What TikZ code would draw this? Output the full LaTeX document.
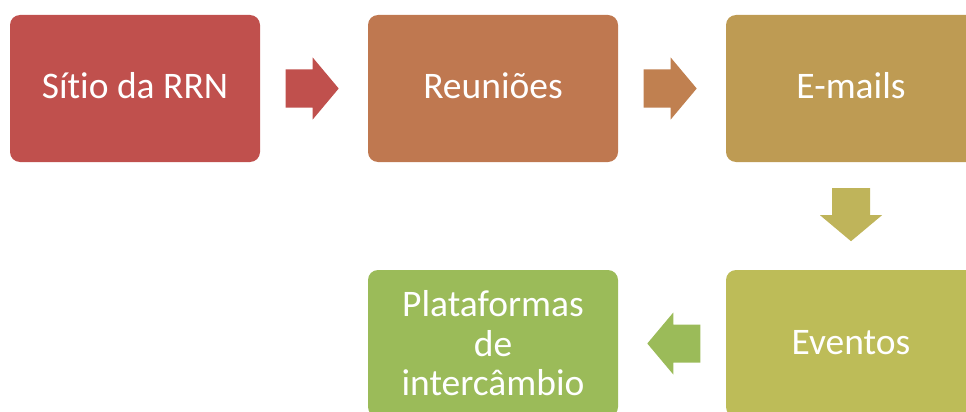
\documentclass[tikz,border=0pt]{standalone}
\usepackage{fontspec}
\setmainfont{Carlito}[Ligatures={NoCommon}]
\usetikzlibrary{calc}
\definecolor{cA}{HTML}{C0504D}
\definecolor{cB}{HTML}{BF7850}
\definecolor{cC}{HTML}{BE9B53}
\definecolor{cD}{HTML}{BDBC58}
\definecolor{cE}{HTML}{9BBB59}
\definecolor{aB}{HTML}{C08050}
\definecolor{aC}{HTML}{BFB45A}
\begin{document}
\begin{tikzpicture}[x=1pt,y=-1pt,
  stepbox/.style={rectangle, rounded corners=10pt, minimum width=250pt, minimum height=147pt,
    inner sep=0pt, text=white, font=\fontsize{37.5}{39.5}\selectfont},
  oneline/.style={text height=25pt, text depth=4pt},
  blockarr/.pic={\fill[pic actions] (0,-19) -- (27,-19) -- (27,-31) -- (53,0) -- (27,31) -- (27,19) -- (0,19) -- cycle;}
]
\useasboundingbox (0,0) rectangle (966,412);
\clip (0,0) rectangle (966,412);
\node[stepbox, oneline, fill=cA] (b1) at (135,88.5) {Sítio da RRN};
\node[stepbox, oneline, fill=cB] (b2) at (493,88.5) {Reuniões};
\node[stepbox, oneline, fill=cC] (b3) at (851,88.5) {E-mails};
\node[stepbox, oneline, fill=cD] (b4) at (851,343.5) {Eventos};
\node[stepbox, fill=cE, align=center] (b5) at (493,343.5) {Plataformas\\de\\intercâmbio};
\pic[fill=cA] at ($(b1.east)+(25.5,0)$) {blockarr};
\pic[fill=aB] at ($(b2.east)+(25.5,0)$) {blockarr};
\pic[fill=aC, rotate=-90] at ($(b3.south)+(0,26)$) {blockarr};
\pic[fill=cE, rotate=180] at ($(b4.west)+(-25.5,0)$) {blockarr};
\end{tikzpicture}
\end{document}
